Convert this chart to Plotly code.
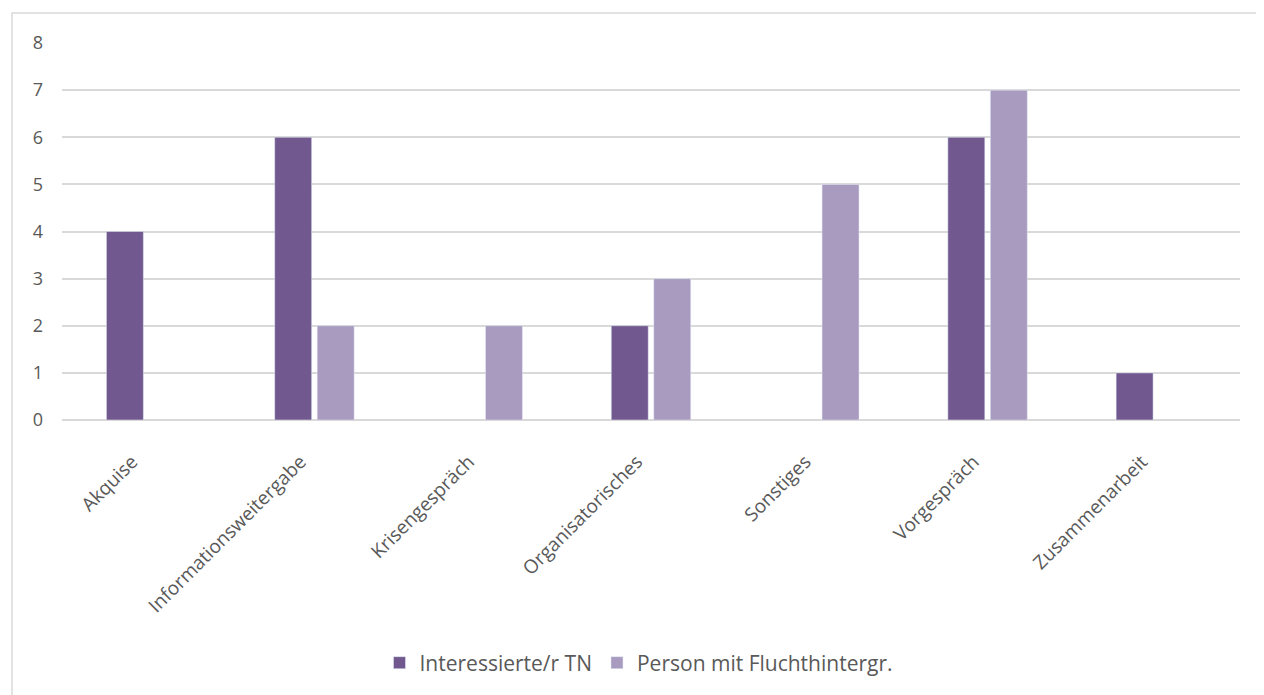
import plotly.graph_objects as go

categories = ["Akquise", "Informationsweitergabe", "Krisengespräch", "Organisatorisches",
              "Sonstiges", "Vorgespräch", "Zusammenarbeit"]
interessierte = [4, 6, None, 2, None, 6, 1]
fluchthintergrund = [None, 2, 2, 3, 5, 7, None]
y_ticks = [0, 1, 2, 3, 4, 5, 6, 7, 8]

FONT = "Open Sans, Liberation Sans, sans-serif"
TEXT = "#595959"

# page body has an 8px margin, so the figure is shifted by 8px
OFF = 8
W, H = 1264 - OFF, 695 - OFF
L, R, T = 62 - OFF, 24, 43 - OFF
B = H - T - 377
pw, ph = W - L - R, H - T - B


def px_to_paper(x, y):
    return (x - OFF - L) / pw, 1 - (y - OFF - T) / ph


fig = go.Figure()
fig.add_trace(go.Bar(x=categories, y=interessierte, name="Interessierte/r TN",
                     marker_color="#71598F"))
fig.add_trace(go.Bar(x=categories, y=fluchthintergrund, name="Person mit Fluchthintergr.",
                     marker_color="#A99BC0"))

x0, y0 = px_to_paper(12, 13)
x1, y1 = px_to_paper(1262, 700)
fig.add_shape(type="rect", xref="paper", yref="paper", x0=x0, y0=y1, x1=x1, y1=y0,
              line=dict(color="#D9D9D9", width=1.5), layer="below")

legend_x, legend_y = px_to_paper(639, 663)

fig.update_layout(
    width=W, height=H,
    margin=dict(l=L, r=R, t=T, b=B, autoexpand=False),
    paper_bgcolor="white", plot_bgcolor="white",
    font=dict(family=FONT, size=20, color=TEXT),
    barmode="group", bargap=0.495, bargroupgap=0.13,
    showlegend=True,
    legend=dict(orientation="h", x=legend_x, xanchor="center", y=legend_y, yanchor="middle",
                font=dict(size=21, color=TEXT), itemwidth=30),
)
# trailing non-breaking spaces nudge the rotated labels down-left like the original
fig.update_xaxes(tickangle=-45, automargin=False, showline=False, ticks="",
                 tickvals=categories, ticktext=[c + "\u00a0" * 4 for c in categories],
                 ticklabelstandoff=12, tickfont=dict(size=19, color=TEXT))
fig.update_yaxes(range=[0, 8], tickvals=y_ticks, showgrid=True, gridcolor="#D9D9D9",
                 gridwidth=1.5, zeroline=True, zerolinecolor="#D9D9D9", zerolinewidth=1.5,
                 automargin=False, ticks="", ticklabelstandoff=18,
                 tickfont=dict(size=18, color=TEXT))

fig.write_html("out.html")
